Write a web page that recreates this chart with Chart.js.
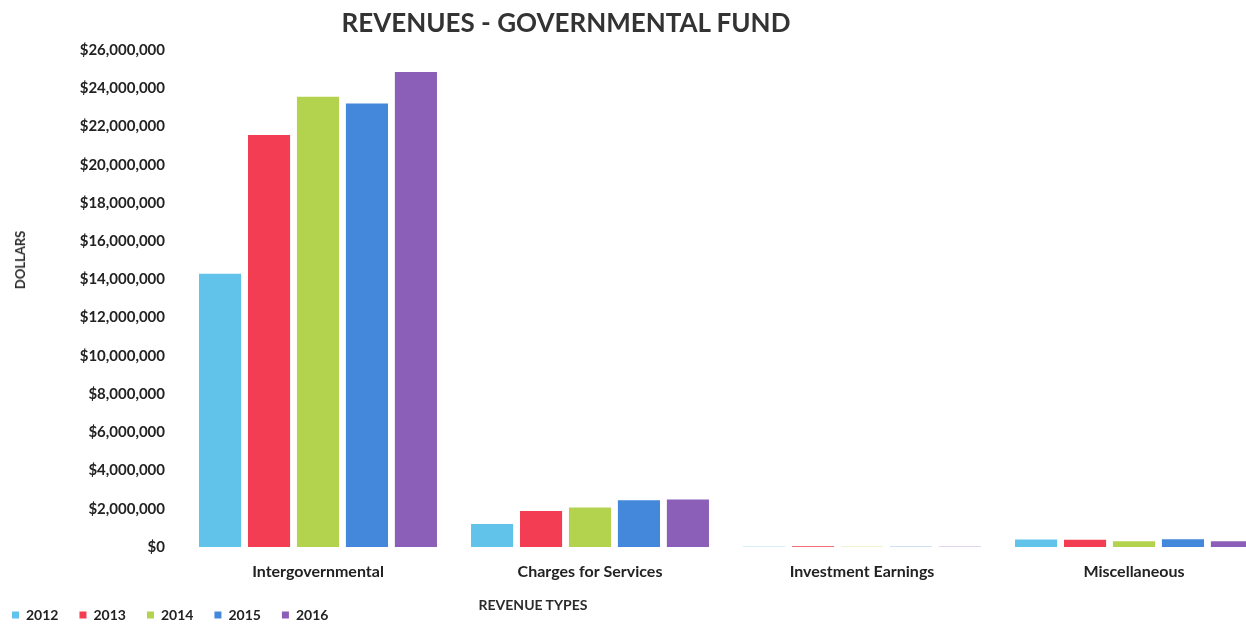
<!DOCTYPE html>
<html lang="en">
<head>
    <meta charset="UTF-8">
    <title>Revenues - Governmental Fund</title>
    <script src="https://cdn.jsdelivr.net/npm/chart.js"></script>
    <style>
        html, body {
            margin: 0;
            padding: 0;
            width: 1246px;
            height: 627px;
            overflow: hidden;
            background: #fff;
            font-family: Lato, "Open Sans", sans-serif;
        }

        #revChart {
            position: absolute;
            left: -9px;
            top: 0;
        }

        .label {
            position: absolute;
            font-weight: bold;
            color: #2b2b2b;
            white-space: nowrap;
            transform: translate(-50%, -50%);
        }

        #mainTitle {
            left: 566px;
            top: 22px;
            font-size: 26px;
            color: #333;
        }

        #yTitle {
            left: 20px;
            top: 260px;
            font-size: 13px;
            transform: translate(-50%, -50%) rotate(-90deg);
        }

        #xTitle {
            left: 533px;
            top: 604px;
            font-size: 14px;
        }
    </style>
</head>
<body>
    <canvas id="revChart" width="1280" height="636"></canvas>
    <div class="label" id="mainTitle">REVENUES - GOVERNMENTAL FUND</div>
    <div class="label" id="yTitle">DOLLARS</div>
    <div class="label" id="xTitle">REVENUE TYPES</div>

    <script>
        // revenue types and fiscal years
        const categories = ['Intergovernmental', 'Charges for Services', 'Investment Earnings', 'Miscellaneous'];
        const years = ['2012', '2013', '2014', '2015', '2016'];

        // dollars per revenue type, one array per year
        const rev2012 = [14300000, 1200000, 10000, 390000];
        const rev2013 = [21550000, 1880000, 45000, 380000];
        const rev2014 = [23550000, 2060000, 10000, 300000];
        const rev2015 = [23200000, 2450000, 10000, 410000];
        const rev2016 = [24850000, 2480000, 10000, 300000];

        // y axis ticks
        const yMax = 26000000;
        const yStep = 2000000;

        const colors = ['#62c3ea', '#f23d52', '#b3d34e', '#4388da', '#8b5fb8'];
        const series = [rev2012, rev2013, rev2014, rev2015, rev2016];

        Chart.defaults.font.family = 'Lato, "Open Sans", sans-serif';
        Chart.defaults.color = '#222';

        const ctx = document.getElementById('revChart').getContext('2d');
        const chart = new Chart(ctx, {
            type: 'bar',
            data: {
                labels: categories,
                datasets: years.map((y, i) => ({
                    label: y,
                    data: series[i],
                    backgroundColor: colors[i],
                    borderWidth: 0,
                    barPercentage: 0.86,
                    categoryPercentage: 0.9
                }))
            },
            options: {
                responsive: false,
                animation: false,
                devicePixelRatio: 1,
                layout: {
                    padding: { top: 50, right: 1, bottom: 4, left: 0 }
                },
                plugins: {
                    title: { display: false },
                    tooltip: { enabled: false },
                    legend: {
                        position: 'bottom',
                        align: 'start',
                        labels: {
                            boxWidth: 7,
                            boxHeight: 7,
                            padding: 21,
                            color: '#222',
                            font: { size: 14, weight: 'bold' }
                        }
                    }
                },
                scales: {
                    x: {
                        grid: { display: false, drawTicks: false },
                        border: { display: false },
                        ticks: {
                            padding: 15,
                            maxRotation: 0,
                            color: '#222',
                            font: { size: 16, weight: 'bold' }
                        },
                        afterFit: s => { s.height = 40; }
                    },
                    y: {
                        min: 0,
                        max: yMax,
                        grid: { display: false, drawTicks: false },
                        border: { display: false },
                        ticks: {
                            stepSize: yStep,
                            padding: 17,
                            color: '#222',
                            font: { size: 15, weight: 'bold' },
                            callback: v => '$' + v.toLocaleString('en-US')
                        },
                        afterFit: s => { s.width = 191; }
                    }
                }
            }
        });
    </script>
</body>
</html>
